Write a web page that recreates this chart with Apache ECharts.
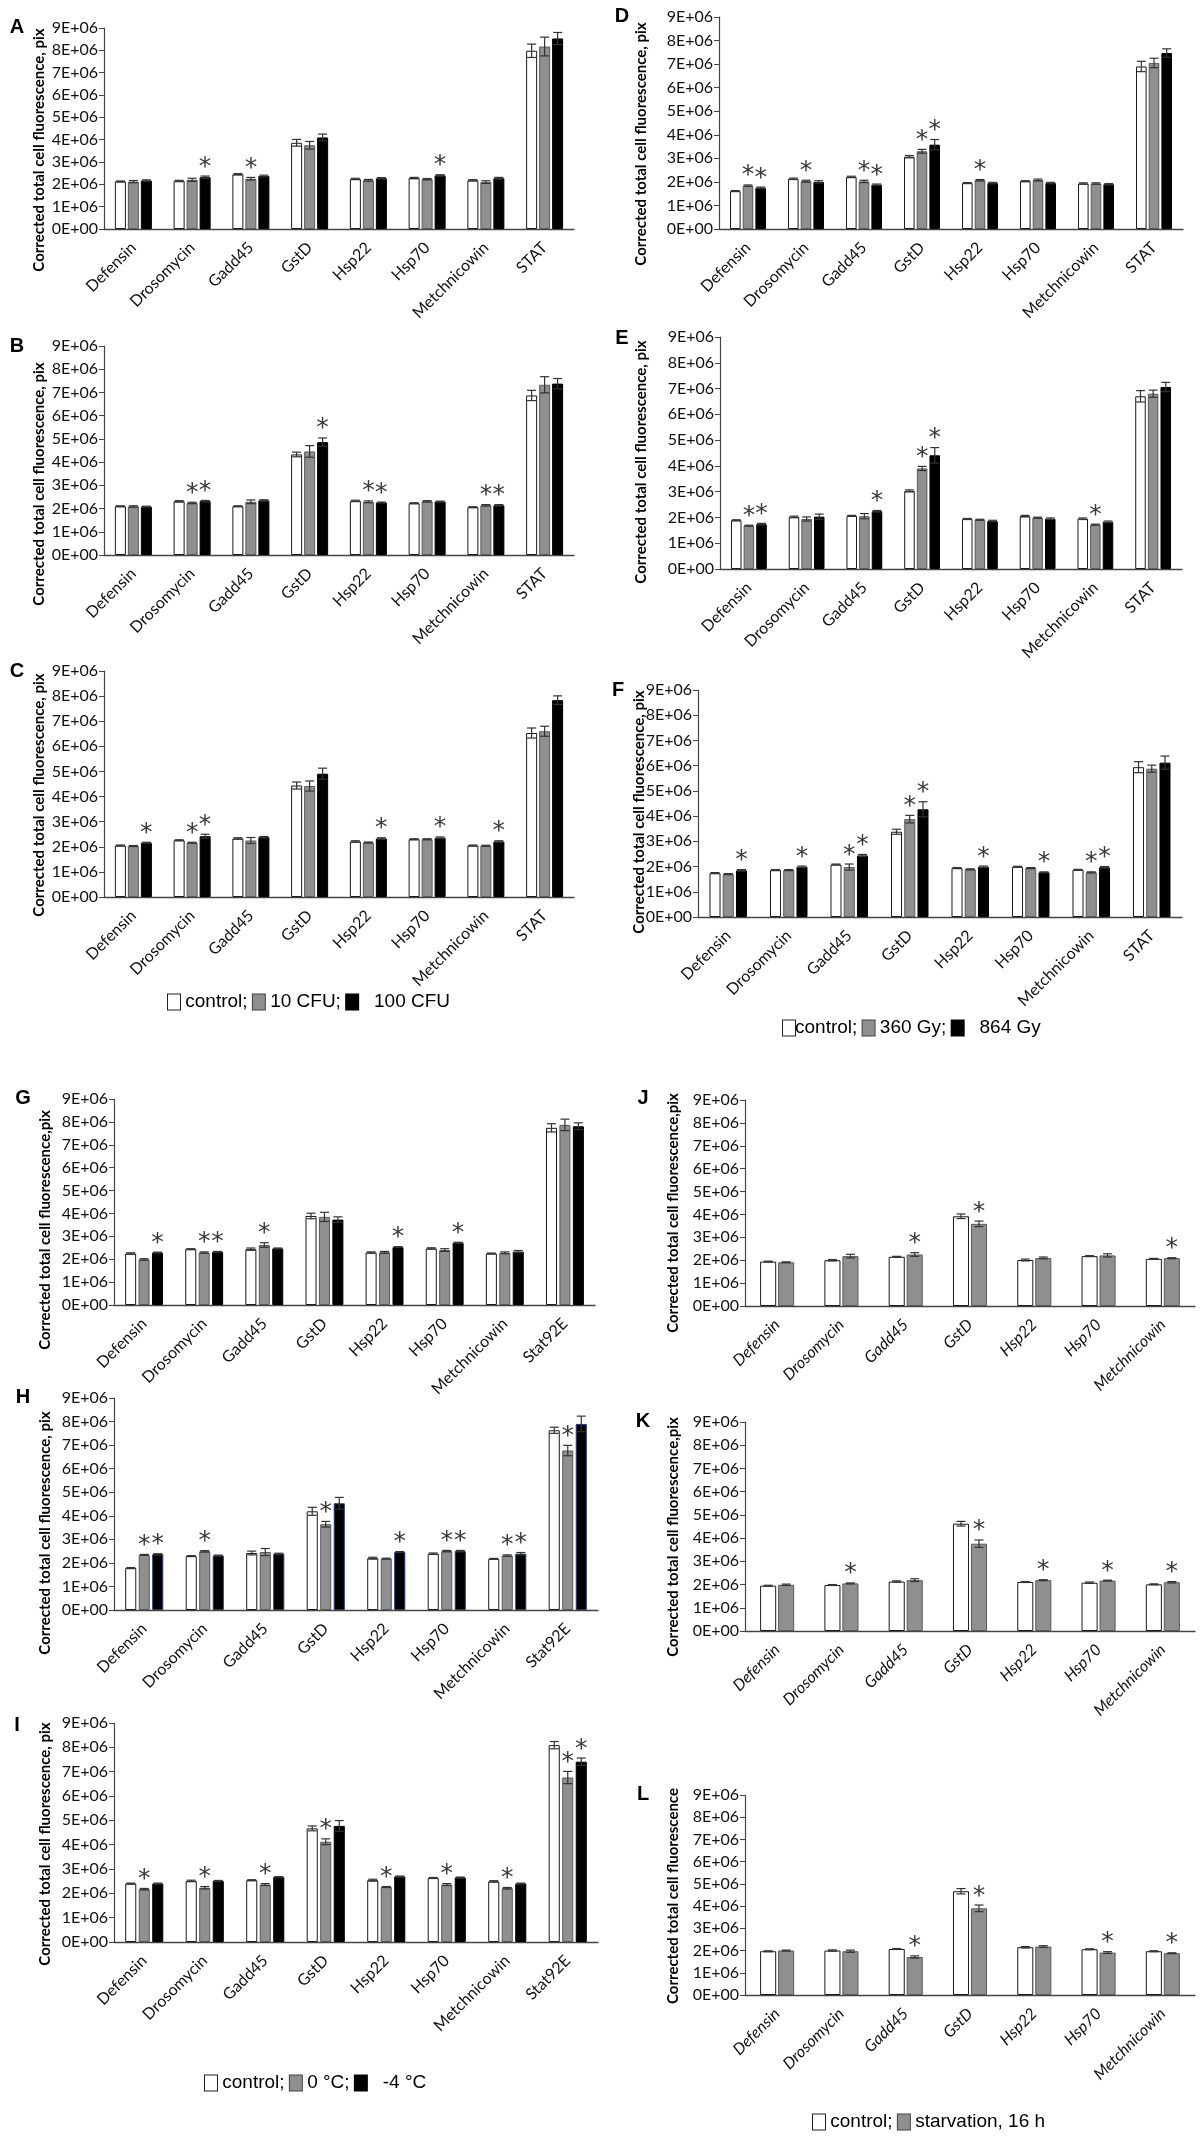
<!DOCTYPE html>
<html><head><meta charset="utf-8">
<script src="https://cdn.jsdelivr.net/npm/echarts@6/dist/echarts.min.js"></script>
<style>html,body{margin:0;padding:0;background:#fff}#c{width:1200px;height:2143px}</style>
</head><body><div id="c"></div>
<script>
// ---------- categories & tick labels ----------
const genes7 = ['Defensin','Drosomycin','Gadd45','GstD','Hsp22','Hsp70','Metchnicowin'];
const genesSTAT = ['Defensin','Drosomycin','Gadd45','GstD','Hsp22','Hsp70','Metchnicowin','STAT'];
const genesStat92E = ['Defensin','Drosomycin','Gadd45','GstD','Hsp22','Hsp70','Metchnicowin','Stat92E'];
const yTicks = ['0E+00','1E+06','2E+06','3E+06','4E+06','5E+06','6E+06','7E+06','8E+06','9E+06'];
const legendABC = ['control;','10 CFU;','100 CFU'];
const legendDEF = ['control;','360 Gy;','864 Gy'];
const legendGHI = ['control;','0 °C;','-4 °C'];
const legendJKL = ['control;','starvation, 16 h'];
const yTitlePix = 'Corrected total cell fluorescence, pix';
const yTitlePix2 = 'Corrected total cell fluorescence,pix';
const yTitlePlain = 'Corrected total cell fluorescence';

// ---------- values (x 1E+06) ----------
const A_ctrl = [2.13,2.15,2.45,3.86,2.24,2.28,2.18,7.98];
const A_ctrl_err = [0.02,0.03,0.03,0.15,0.03,0.03,0.03,0.30];
const A_ctrl_sig = [0,0,0,0,0,0,0,0];
const A_mid = [2.12,2.20,2.25,3.75,2.18,2.23,2.10,8.17];
const A_mid_err = [0.05,0.07,0.06,0.17,0.04,0.03,0.06,0.42];
const A_mid_sig = [0,0,1,0,0,0,0,0];
const A_high = [2.17,2.32,2.37,4.10,2.27,2.40,2.27,8.53];
const A_high_err = [0.03,0.05,0.04,0.15,0.03,0.03,0.04,0.27];
const A_high_sig = [0,1,0,0,0,1,0,0];
const B_ctrl = [2.10,2.31,2.10,4.33,2.33,2.23,2.06,6.87];
const B_ctrl_err = [0.02,0.03,0.02,0.10,0.03,0.02,0.02,0.22];
const B_ctrl_sig = [0,0,0,0,0,0,0,0];
const B_mid = [2.09,2.24,2.29,4.46,2.29,2.31,2.14,7.33];
const B_mid_err = [0.03,0.03,0.08,0.25,0.04,0.03,0.03,0.35];
const B_mid_sig = [0,1,0,0,1,0,1,0];
const B_high = [2.08,2.32,2.35,4.86,2.26,2.30,2.14,7.38];
const B_high_err = [0.02,0.03,0.03,0.18,0.02,0.02,0.03,0.22];
const B_high_sig = [0,1,0,1,1,0,1,0];
const C_ctrl = [2.05,2.26,2.33,4.44,2.21,2.30,2.05,6.53];
const C_ctrl_err = [0.02,0.02,0.03,0.14,0.03,0.02,0.02,0.20];
const C_ctrl_sig = [0,0,0,0,0,0,0,0];
const C_mid = [2.03,2.16,2.25,4.42,2.17,2.30,2.04,6.60];
const C_mid_err = [0.02,0.02,0.12,0.20,0.02,0.02,0.02,0.20];
const C_mid_sig = [0,1,0,0,0,0,0,0];
const C_high = [2.16,2.42,2.38,4.91,2.33,2.36,2.21,7.84];
const C_high_err = [0.02,0.08,0.03,0.22,0.03,0.03,0.03,0.17];
const C_high_sig = [1,1,0,0,1,1,1,0];
const D_ctrl = [1.61,2.13,2.21,3.07,1.95,2.03,1.93,6.90];
const D_ctrl_err = [0.02,0.03,0.03,0.05,0.02,0.02,0.03,0.22];
const D_ctrl_sig = [0,0,0,0,0,0,0,0];
const D_mid = [1.84,2.03,2.02,3.30,2.07,2.08,1.93,7.05];
const D_mid_err = [0.03,0.04,0.05,0.08,0.03,0.04,0.03,0.20];
const D_mid_sig = [1,1,1,1,1,0,0,0];
const D_high = [1.75,2.00,1.88,3.58,1.95,1.95,1.90,7.47];
const D_high_err = [0.03,0.05,0.03,0.22,0.03,0.03,0.03,0.18];
const D_high_sig = [1,0,1,1,0,0,0,0];
const E_ctrl = [1.89,2.02,2.06,3.03,1.94,2.05,1.95,6.70];
const E_ctrl_err = [0.02,0.03,0.02,0.04,0.02,0.03,0.03,0.22];
const E_ctrl_sig = [0,0,0,0,0,0,0,0];
const E_mid = [1.68,1.94,2.05,3.90,1.91,1.99,1.72,6.80];
const E_mid_err = [0.02,0.08,0.10,0.08,0.02,0.02,0.02,0.14];
const E_mid_sig = [1,0,0,1,0,0,1,0];
const E_high = [1.74,2.03,2.24,4.41,1.86,1.95,1.83,7.06];
const E_high_err = [0.03,0.10,0.03,0.30,0.03,0.03,0.03,0.18];
const E_high_sig = [1,0,1,1,0,0,0,0];
const F_ctrl = [1.74,1.86,2.08,3.38,1.94,1.99,1.87,5.94];
const F_ctrl_err = [0.02,0.02,0.02,0.10,0.02,0.02,0.02,0.22];
const F_ctrl_sig = [0,0,0,0,0,0,0,0];
const F_mid = [1.70,1.86,1.98,3.88,1.89,1.94,1.77,5.88];
const F_mid_err = [0.02,0.02,0.12,0.15,0.02,0.02,0.02,0.14];
const F_mid_sig = [0,0,1,1,0,0,1,0];
const F_high = [1.85,1.99,2.44,4.27,1.99,1.77,1.97,6.12];
const F_high_err = [0.03,0.03,0.04,0.30,0.03,0.02,0.03,0.26];
const F_high_sig = [1,1,1,1,1,1,1,0];
const G_ctrl = [2.25,2.44,2.44,3.89,2.29,2.47,2.25,7.74];
const G_ctrl_err = [0.03,0.02,0.05,0.12,0.03,0.03,0.02,0.18];
const G_ctrl_sig = [0,0,0,0,0,0,0,0];
const G_mid = [1.99,2.29,2.62,3.85,2.30,2.40,2.28,7.87];
const G_mid_err = [0.03,0.03,0.10,0.20,0.04,0.06,0.04,0.25];
const G_mid_sig = [0,1,1,0,0,0,0,0];
const G_high = [2.29,2.32,2.47,3.73,2.53,2.72,2.33,7.81];
const G_high_err = [0.02,0.02,0.02,0.12,0.02,0.02,0.05,0.15];
const G_high_sig = [1,1,0,0,1,1,0,0];
const H_ctrl = [1.78,2.29,2.42,4.19,2.20,2.39,2.17,7.63];
const H_ctrl_err = [0.02,0.02,0.08,0.17,0.04,0.03,0.02,0.13];
const H_ctrl_sig = [0,0,0,0,0,0,0,0];
const H_mid = [2.34,2.49,2.46,3.64,2.18,2.50,2.31,6.77];
const H_mid_err = [0.02,0.03,0.15,0.12,0.02,0.03,0.03,0.22];
const H_mid_sig = [1,1,0,1,0,1,1,1];
const H_high = [2.37,2.31,2.39,4.53,2.46,2.50,2.39,7.90];
const H_high_err = [0.02,0.02,0.02,0.25,0.02,0.03,0.05,0.33];
const H_high_sig = [1,0,0,0,1,1,1,0];
const I_ctrl = [2.40,2.51,2.54,4.67,2.54,2.63,2.49,8.09];
const I_ctrl_err = [0.02,0.03,0.02,0.10,0.04,0.02,0.03,0.15];
const I_ctrl_sig = [0,0,0,0,0,0,0,0];
const I_mid = [2.17,2.23,2.36,4.12,2.26,2.36,2.21,6.76];
const I_mid_err = [0.03,0.05,0.04,0.12,0.02,0.04,0.03,0.25];
const I_mid_sig = [1,1,1,1,1,1,1,1];
const I_high = [2.40,2.51,2.67,4.77,2.69,2.65,2.40,7.41];
const I_high_err = [0.02,0.02,0.02,0.22,0.02,0.02,0.02,0.15];
const I_high_sig = [0,0,0,0,0,0,0,1];
const J_ctrl = [1.94,2.00,2.15,3.92,2.01,2.18,2.06];
const J_ctrl_err = [0.02,0.03,0.02,0.10,0.04,0.02,0.02];
const J_ctrl_sig = [0,0,0,0,0,0,0];
const J_starv = [1.91,2.18,2.25,3.59,2.10,2.21,2.09];
const J_starv_err = [0.02,0.08,0.08,0.12,0.04,0.07,0.02];
const J_starv_sig = [0,0,1,1,0,0,1];
const K_ctrl = [1.95,1.98,2.13,4.62,2.11,2.08,2.01];
const K_ctrl_err = [0.02,0.02,0.03,0.10,0.02,0.03,0.02];
const K_ctrl_sig = [0,0,0,0,0,0,0];
const K_starv = [1.99,2.05,2.19,3.76,2.19,2.17,2.10];
const K_starv_err = [0.03,0.02,0.06,0.16,0.02,0.02,0.03];
const K_starv_sig = [0,1,0,1,1,1,1];
const L_ctrl = [1.97,2.00,2.07,4.67,2.15,2.06,1.97];
const L_ctrl_err = [0.02,0.03,0.02,0.12,0.03,0.02,0.02];
const L_ctrl_sig = [0,0,0,0,0,0,0];
const L_starv = [2.00,1.97,1.71,3.90,2.18,1.91,1.88];
const L_starv_err = [0.02,0.05,0.05,0.15,0.04,0.04,0.02];
const L_starv_sig = [0,0,1,1,0,1,1];

// ---------- styles ----------
const FILL = ['#ffffff','#8f8f8f','#000000'];
const EDGE = ['#1a1a1a','#5a5a5a','#000000'];
const TICK_FONT = 'Lato, "Open Sans", sans-serif';

const panels = [
  {k:'A', cats:genesSTAT, s:[[A_ctrl,A_ctrl_err,A_ctrl_sig],[A_mid,A_mid_err,A_mid_sig],[A_high,A_high_err,A_high_sig]], g:{left:104,top:28,width:470,height:201}, t:yTitlePix, tp:[39,150], lp:[17,27], cg:0.37, bg:0.18},
  {k:'B', cats:genesSTAT, s:[[B_ctrl,B_ctrl_err,B_ctrl_sig],[B_mid,B_mid_err,B_mid_sig],[B_high,B_high_err,B_high_sig]], g:{left:104,top:346,width:470,height:209}, t:yTitlePix, tp:[39,484], lp:[17,346], cg:0.37, bg:0.18},
  {k:'C', cats:genesSTAT, s:[[C_ctrl,C_ctrl_err,C_ctrl_sig],[C_mid,C_mid_err,C_mid_sig],[C_high,C_high_err,C_high_sig]], g:{left:104,top:671,width:470,height:226}, t:yTitlePix, tp:[39,795], lp:[17,671], cg:0.37, bg:0.18},
  {k:'D', cats:genesSTAT, s:[[D_ctrl,D_ctrl_err,D_ctrl_sig],[D_mid,D_mid_err,D_mid_sig],[D_high,D_high_err,D_high_sig]], g:{left:719,top:17,width:464,height:212}, t:yTitlePix, tp:[641,144], lp:[622,16], cg:0.38, bg:0.2},
  {k:'E', cats:genesSTAT, s:[[E_ctrl,E_ctrl_err,E_ctrl_sig],[E_mid,E_mid_err,E_mid_sig],[E_high,E_high_err,E_high_sig]], g:{left:720,top:337,width:462,height:232}, t:yTitlePix, tp:[641,462], lp:[622,338], cg:0.38, bg:0.2},
  {k:'F', cats:genesSTAT, s:[[F_ctrl,F_ctrl_err,F_ctrl_sig],[F_mid,F_mid_err,F_mid_sig],[F_high,F_high_err,F_high_sig]], g:{left:698,top:690,width:484,height:227}, t:yTitlePix, tp:[639,812], lp:[618,690], cg:0.38, bg:0.2},
  {k:'G', cats:genesStat92E, s:[[G_ctrl,G_ctrl_err,G_ctrl_sig],[G_mid,G_mid_err,G_mid_sig],[G_high,G_high_err,G_high_sig]], g:{left:114,top:1099,width:481,height:206}, t:yTitlePix2, tp:[45,1230], lp:[23,1098], cg:0.37, bg:0.22},
  {k:'H', cats:genesStat92E, s:[[H_ctrl,H_ctrl_err,H_ctrl_sig],[H_mid,H_mid_err,H_mid_sig],[H_high,H_high_err,H_high_sig]], g:{left:114,top:1398,width:484,height:212}, t:yTitlePix, tp:[45,1533], lp:[23,1397], cg:0.37, bg:0.22, hb:true},
  {k:'I', cats:genesStat92E, s:[[I_ctrl,I_ctrl_err,I_ctrl_sig],[I_mid,I_mid_err,I_mid_sig],[I_high,I_high_err,I_high_sig]], g:{left:114,top:1723,width:484,height:219}, t:yTitlePix, tp:[45,1844], lp:[17,1725], cg:0.37, bg:0.22},
  {k:'J', cats:genes7, s:[[J_ctrl,J_ctrl_err,J_ctrl_sig],[J_starv,J_starv_err,J_starv_sig]], g:{left:745,top:1100,width:450,height:206}, t:yTitlePix2, tp:[673,1213], lp:[643,1098], cg:0.47, bg:0.12, it:true},
  {k:'K', cats:genes7, s:[[K_ctrl,K_ctrl_err,K_ctrl_sig],[K_starv,K_starv_err,K_starv_sig]], g:{left:745,top:1422,width:450,height:209}, t:yTitlePix2, tp:[673,1537], lp:[643,1421], cg:0.47, bg:0.12, it:true},
  {k:'L', cats:genes7, s:[[L_ctrl,L_ctrl_err,L_ctrl_sig],[L_starv,L_starv_err,L_starv_sig]], g:{left:745,top:1795,width:450,height:200}, t:yTitlePlain, tp:[673,1896], lp:[643,1794], cg:0.47, bg:0.12, it:true}
];
const legends = [
  {names:legendABC, x:168, y:1002, fills:[0,1,2]},
  {names:legendDEF, x:783, y:1028, fills:[0,1,2], tight:true},
  {names:legendGHI, x:205, y:2083, fills:[0,1,2]},
  {names:legendJKL, x:813, y:2122, fills:[0,1]}
];

function errRenderer(n, idx, cg, bgap) {
  return function (params, api) {
    const ci = api.value(0), v = api.value(1), e = api.value(2), s = api.value(3);
    const band = api.size([1, 0])[0];
    const usable = band * (1 - cg);
    const bw = usable / (n + (n - 1) * bgap);
    const off = -usable / 2 + bw / 2 + idx * bw * (1 + bgap);
    const top = api.coord([ci, v + e]);
    const bot = api.coord([ci, v - e]);
    const x = top[0] + off;
    const col = '#333';
    const ch = [];
    if (e > 0) {
      const cw = Math.min(4.5, bw * 0.42);
      ch.push({type:'line', shape:{x1:x, y1:top[1], x2:x, y2:bot[1]}, style:{stroke:col, lineWidth:1.2}});
      ch.push({type:'line', shape:{x1:x-cw, y1:top[1], x2:x+cw, y2:top[1]}, style:{stroke:col, lineWidth:1.2}});
      ch.push({type:'line', shape:{x1:x-cw, y1:bot[1], x2:x+cw, y2:bot[1]}, style:{stroke:col, lineWidth:1.2}});
    }
    if (s) {
      ch.push({type:'text', x:x, y:top[1] - 9, style:{text:'*', fill:'#3a3a3a', font:'25px "DejaVu Sans", sans-serif', align:'center', verticalAlign:'middle'}});
    }
    return {type:'group', children:ch};
  };
}

const option = {animation:false, backgroundColor:'#fff', grid:[], xAxis:[], yAxis:[], series:[], graphic:[]};
panels.forEach((p, gi) => {
  option.grid.push(Object.assign({containLabel:false}, p.g));
  option.xAxis.push({type:'category', gridIndex:gi, data:p.cats,
    axisLine:{lineStyle:{color:'#444', width:1.3}}, axisTick:{show:false},
    axisLabel:{interval:0, rotate:45, color:'#111', fontFamily:TICK_FONT, fontSize:16, fontStyle:p.it?'italic':'normal', margin:16}});
  option.yAxis.push({type:'value', gridIndex:gi, min:0, max:9, interval:1,
    axisLine:{show:true, lineStyle:{color:'#444', width:1.2}},
    axisTick:{show:true, length:5, lineStyle:{color:'#444'}},
    splitLine:{show:false},
    axisLabel:{formatter:(v)=>yTicks[Math.round(v)], color:'#111', fontFamily:TICK_FONT, fontSize:16, margin:6}});
  const n = p.s.length;
  p.s.forEach((ser, si) => {
    const [vals] = ser;
    const edge = (p.hb && si === 2) ? '#1f3a7a' : EDGE[si];
    option.series.push({type:'bar', name:p.k+si, xAxisIndex:gi, yAxisIndex:gi, data:vals,
      barCategoryGap:(p.cg*100)+'%', barGap:(p.bg*100)+'%',
      itemStyle:{color:FILL[si], borderColor:edge, borderWidth:1}, z:2});
  });
  p.s.forEach((ser, si) => {
    const [vals, errs, sigs] = ser;
    option.series.push({type:'custom', xAxisIndex:gi, yAxisIndex:gi, z:4, clip:false,
      renderItem:errRenderer(n, si, p.cg, p.bg),
      encode:{x:0, y:1},
      data:vals.map((v, i) => [i, v, errs[i], sigs[i]])});
  });
  option.graphic.push({type:'text', x:p.lp[0], y:p.lp[1], style:{text:p.k, font:'bold 20px "Liberation Sans", Arial, sans-serif', fill:'#000', align:'center', verticalAlign:'middle'}});
  option.graphic.push({type:'text', x:p.tp[0], y:p.tp[1], rotation:Math.PI/2, style:{text:p.t, font:'bold 15px Lato, "Open Sans", sans-serif', fill:'#000', align:'center', verticalAlign:'middle'}});
});
legends.forEach(L => {
  let txt = '';
  L.names.forEach((nm, i) => {
    const key = ['w','g','b'][L.fills[i]];
    const lead = (i === 0 && L.tight) ? '' : (i === 2 ? '   ' : ' ');
    const trail = (i < L.names.length - 1) ? ' ' : '';
    txt += '{' + key + '|}{t|' + lead + nm + trail + '}';
  });
  option.graphic.push({type:'text', x:L.x, y:L.y, style:{
    text:txt, verticalAlign:'middle', align:'left',
    rich:{
      w:{width:12, height:15, backgroundColor:'#fff', borderColor:'#222', borderWidth:1},
      g:{width:12, height:15, backgroundColor:'#8f8f8f', borderColor:'#444', borderWidth:1},
      b:{width:12, height:15, backgroundColor:'#000', borderColor:'#000', borderWidth:1},
      t:{fontFamily:'"Liberation Sans", Arial, sans-serif', fontSize:19, fill:'#000'}
    }}});
});
const chart = echarts.init(document.getElementById('c'), null, {renderer:'canvas', width:1200, height:2143});
chart.setOption(option);
</script></body></html>
